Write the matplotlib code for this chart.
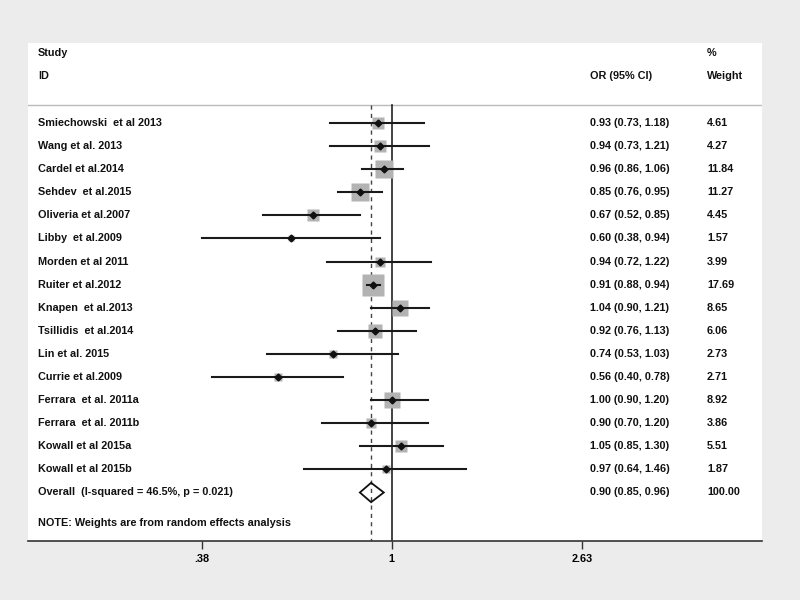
import matplotlib.pyplot as plt
import matplotlib.transforms as mtransforms
from matplotlib.patches import Polygon
import numpy as np

# study data
studies = ['Smiechowski  et al 2013', 'Wang et al. 2013', 'Cardel et al.2014',
           'Sehdev  et al.2015', 'Oliveria et al.2007', 'Libby  et al.2009',
           'Morden et al 2011', 'Ruiter et al.2012', 'Knapen  et al.2013',
           'Tsillidis  et al.2014', 'Lin et al. 2015', 'Currie et al.2009',
           'Ferrara  et al. 2011a', 'Ferrara  et al. 2011b', 'Kowall et al 2015a',
           'Kowall et al 2015b']
odds = [0.93, 0.94, 0.96, 0.85, 0.67, 0.60, 0.94, 0.91, 1.04, 0.92, 0.74, 0.56,
        1.00, 0.90, 1.05, 0.97]
lower = [0.73, 0.73, 0.86, 0.76, 0.52, 0.38, 0.72, 0.88, 0.90, 0.76, 0.53, 0.40,
         0.90, 0.70, 0.85, 0.64]
upper = [1.18, 1.21, 1.06, 0.95, 0.85, 0.94, 1.22, 0.94, 1.21, 1.13, 1.03, 0.78,
         1.20, 1.20, 1.30, 1.46]
weights = [4.61, 4.27, 11.84, 11.27, 4.45, 1.57, 3.99, 17.69, 8.65, 6.06, 2.73,
           2.71, 8.92, 3.86, 5.51, 1.87]

overall_label = 'Overall  (I-squared = 46.5%, p = 0.021)'
overall_or = 0.90
overall_lo = 0.85
overall_hi = 0.96

tick_vals = [0.38, 1, 2.63]
tick_labels = ['.38', '1', '2.63']

font = ['Liberation Sans Narrow', 'Liberation Sans', 'DejaVu Sans']
plt.rcParams['font.family'] = font
plt.rcParams['font.weight'] = 'bold'

fig = plt.figure(figsize=(8, 6), dpi=100)
fig.patch.set_facecolor('#ececec')
# panel spans x 28..762 px, y 43..541 px
ax = fig.add_axes([28 / 800, 1 - 541 / 600, 734 / 800, 498 / 600])
ax.set_facecolor('white')
ax.set_xscale('log')
ax.set_xlim(0.157, 6.58)
ax.set_ylim(18.1, -3.46)

for s in ['top', 'left', 'right']:
    ax.spines[s].set_visible(False)
ax.spines['bottom'].set_color('#333333')
ax.spines['bottom'].set_linewidth(1.2)

ax.set_xticks(tick_vals)
ax.set_xticklabels(tick_labels, fontsize=7.8, fontweight='bold')
ax.minorticks_off()
ax.tick_params(axis='x', length=6, width=1, color='#333333', pad=3)
ax.set_yticks([])

tr = mtransforms.blended_transform_factory(ax.transAxes, ax.transData)
fs = 7.8
txt = '#111111'

# header
ax.text(0.0136, -3.03, 'Study', transform=tr, fontsize=fs, va='center', color=txt)
ax.text(0.0136, -2.03, 'ID', transform=tr, fontsize=fs, va='center', color=txt)
ax.text(0.765, -2.03, 'OR (95% CI)', transform=tr, fontsize=fs, va='center', color=txt)
ax.text(0.925, -3.03, '%', transform=tr, fontsize=fs, va='center', color=txt)
ax.text(0.925, -2.03, 'Weight', transform=tr, fontsize=fs, va='center', color=txt)
ax.axhline(-0.78, color='#bbbbbb', lw=1)

# reference lines
ax.plot([1, 1], [-0.78, 18.1], color='#222222', lw=1.2)
ax.plot([overall_or, overall_or], [-0.78, 18.1], color='#444444', lw=1, ls=(0, (3, 3)))

ys = np.arange(len(studies))
for y, name, o, lo, hi, w in zip(ys, studies, odds, lower, upper, weights):
    side = 5.4 * np.sqrt(w)  # box side in px
    ax.plot([o], [y], marker='s', ms=side * 0.72, color='#b3b3b3', mec='none', zorder=2)
    ax.plot([lo, hi], [y, y], color='#1a1a1a', lw=1.5, zorder=3)
    ax.plot([o], [y], marker='D', ms=3.5, color='#111111', zorder=4)
    ax.text(0.0136, y, name, transform=tr, fontsize=fs, va='center', color=txt)
    ax.text(0.765, y, '%.2f (%.2f, %.2f)' % (o, lo, hi), transform=tr, fontsize=fs,
            va='center', color=txt)
    ax.text(0.925, y, '%.2f' % w, transform=tr, fontsize=fs, va='center', color=txt)

yo = len(studies)
dia = Polygon([[overall_lo, yo], [overall_or, yo - 0.42], [overall_hi, yo],
               [overall_or, yo + 0.42]], closed=True, facecolor='none',
              edgecolor='#111111', lw=1.3, zorder=5)
ax.add_patch(dia)
ax.text(0.0136, yo, overall_label, transform=tr, fontsize=fs, va='center', color=txt)
ax.text(0.765, yo, '%.2f (%.2f, %.2f)' % (overall_or, overall_lo, overall_hi),
        transform=tr, fontsize=fs, va='center', color=txt)
ax.text(0.925, yo, '100.00', transform=tr, fontsize=fs, va='center', color=txt)

ax.text(0.0136, 17.3, 'NOTE: Weights are from random effects analysis', transform=tr,
        fontsize=fs, va='center', color=txt)

fig.savefig('out.png', dpi=100, facecolor=fig.get_facecolor())
